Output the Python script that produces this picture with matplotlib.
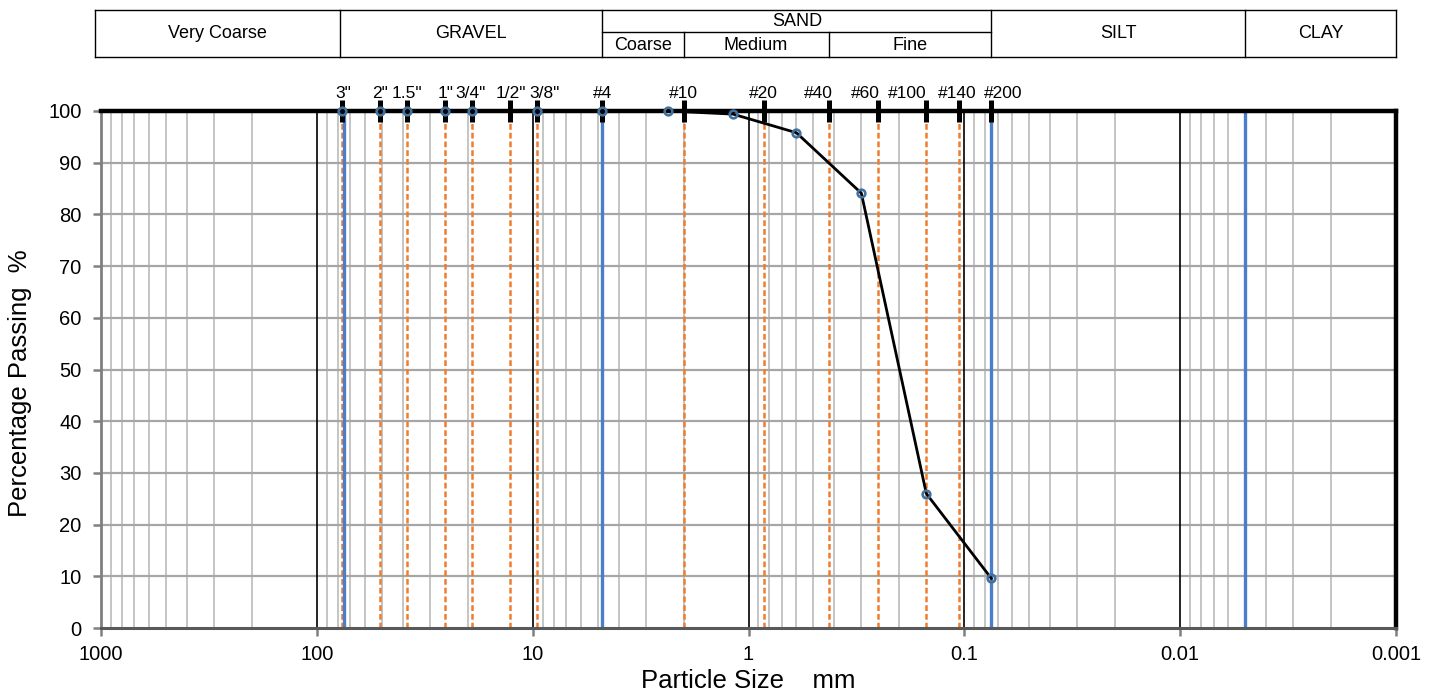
import numpy as np
import matplotlib.pyplot as plt
from matplotlib.ticker import FixedLocator

plt.rcParams['font.family'] = ['Liberation Sans', 'DejaVu Sans']

# sieve set (mm) and labels
sieve_mm = [76.2, 50.8, 38.1, 25.4, 19.05, 12.7, 9.525, 4.75, 2.0, 0.85, 0.425, 0.25, 0.15, 0.106, 0.075]
sieve_lbl = ['3"', '2"', '1.5"', '1"', '3/4"', '1/2"', '3/8"', '#4', '#10', '#20', '#40', '#60', '#100', '#140', '#200']
lbl_shift = [1, 0, 0, 0, -2, 1, 7, 0, 0, 0, -10, -13, -19, -2, 12]  # px nudge so labels don't collide

# test results
size_mm = [76.2, 50.8, 38.1, 25.4, 19.05, 9.525, 4.75, 2.36, 1.18, 0.6, 0.3, 0.15, 0.075]
passing = [100, 100, 100, 100, 100, 100, 100, 100, 99.4, 95.8, 84.1, 26.0, 9.6]

# classification boundaries (mm)
bounds_mm = [75, 4.75, 0.075, 0.005]

# table at the top
table_cols = [1070, 78, 4.75, 0.075, 0.005, 0.001]
table_lbl = ['Very Coarse', 'GRAVEL', None, 'SILT', 'CLAY']
sand_cols = [4.75, 2.0, 0.425, 0.075]
sand_lbl = ['Coarse', 'Medium', 'Fine']

fig = plt.figure(figsize=(14.33, 6.96), dpi=100)
L, R = 101 / 1433, 1396 / 1433
ax = fig.add_axes([L, 1 - 628 / 696, R - L, (628 - 111) / 696])
ax.set_xscale('log')
ax.set_xlim(1000, 0.001)
ax.set_ylim(0, 100)

dec = [10.0 ** k for k in range(3, -4, -1)]
minor = [m * d for d in dec[1:] for m in range(2, 10)]
for x in minor:
    ax.axvline(x, color='#c0c0c0', lw=1.3, zorder=1)
for x in dec[1:-1]:
    ax.axvline(x, color='black', lw=1.2, zorder=2)
for y in range(10, 100, 10):
    ax.axhline(y, color='#a6a6a6', lw=1.6, zorder=1)

for s in sieve_mm:
    ax.plot([s, s], [0, 100], color='#ed7d31', lw=1.8, ls=(0, (2.3, 1.2)), zorder=3)
for b in bounds_mm:
    ax.axvline(b, color='#4a7ec8', lw=2.4, zorder=3)

ax.plot(sieve_mm, [100] * len(sieve_mm), ls='none', marker='|', ms=15.5,
        mew=3.6, color='black', clip_on=False, zorder=8)
ax.plot(size_mm, passing, color='black', lw=2.0, marker='o', ms=5.5,
        mfc='none', mec='#41719c', mew=1.9, zorder=9, clip_on=False)

for s, t, dx in zip(sieve_mm, sieve_lbl, lbl_shift):
    ax.annotate(t, (s, 102.0), xytext=(dx * 0.72, 0), textcoords='offset points',
                ha='center', va='bottom', fontsize=12.5, annotation_clip=False)

ax.xaxis.set_major_locator(FixedLocator(dec))
ax.xaxis.set_minor_locator(FixedLocator([]))
ax.set_xticklabels(['1000', '100', '10', '1', '0.1', '0.01', '0.001'])
ax.set_yticks(range(0, 101, 10))
ax.tick_params(axis='both', labelsize=14.5, color='#808080', width=1.8, length=6, direction='out')
ax.tick_params(axis='x', pad=6)
ax.tick_params(axis='y', pad=8)

for side in ['top', 'right']:
    ax.spines[side].set_color('black')
    ax.spines[side].set_linewidth(3.2)
ax.spines['left'].set_color('#808080')
ax.spines['left'].set_linewidth(2)
ax.spines['bottom'].set_color('#595959')
ax.spines['bottom'].set_linewidth(2.2)
for sp in ax.spines.values():
    sp.set_zorder(7)

ax.set_xlabel('Particle Size    mm', fontsize=18.5, labelpad=4)
ax.set_ylabel('Percentage Passing  %', fontsize=18.5)
ax.yaxis.set_label_coords(-0.053, 0.474)

# classification table
axt = fig.add_axes([L, 1 - 57 / 696, R - L, 47 / 696])
axt.set_xscale('log')
axt.set_xlim(1000, 0.001)
axt.set_ylim(0, 1)
axt.axis('off')
kw = dict(color='black', lw=1.0, clip_on=False)
axt.plot([table_cols[0], table_cols[-1]], [1, 1], **kw)
axt.plot([table_cols[0], table_cols[-1]], [0, 0], **kw)
for c in table_cols:
    axt.plot([c, c], [0, 1], **kw)
axt.plot([sand_cols[0], sand_cols[-1]], [0.53, 0.53], **kw)
for c in sand_cols[1:-1]:
    axt.plot([c, c], [0, 0.53], **kw)
tf = dict(fontsize=13, ha='center', va='center')
for a, b, t in zip(table_cols[:-1], table_cols[1:], table_lbl):
    if t:
        axt.text(np.sqrt(a * b), 0.5, t, **tf)
axt.text(np.sqrt(sand_cols[0] * sand_cols[-1]), 0.76, 'SAND', **tf)
for a, b, t in zip(sand_cols[:-1], sand_cols[1:], sand_lbl):
    axt.text(np.sqrt(a * b), 0.25, t, **tf)

fig.savefig('out.png', dpi=100)
